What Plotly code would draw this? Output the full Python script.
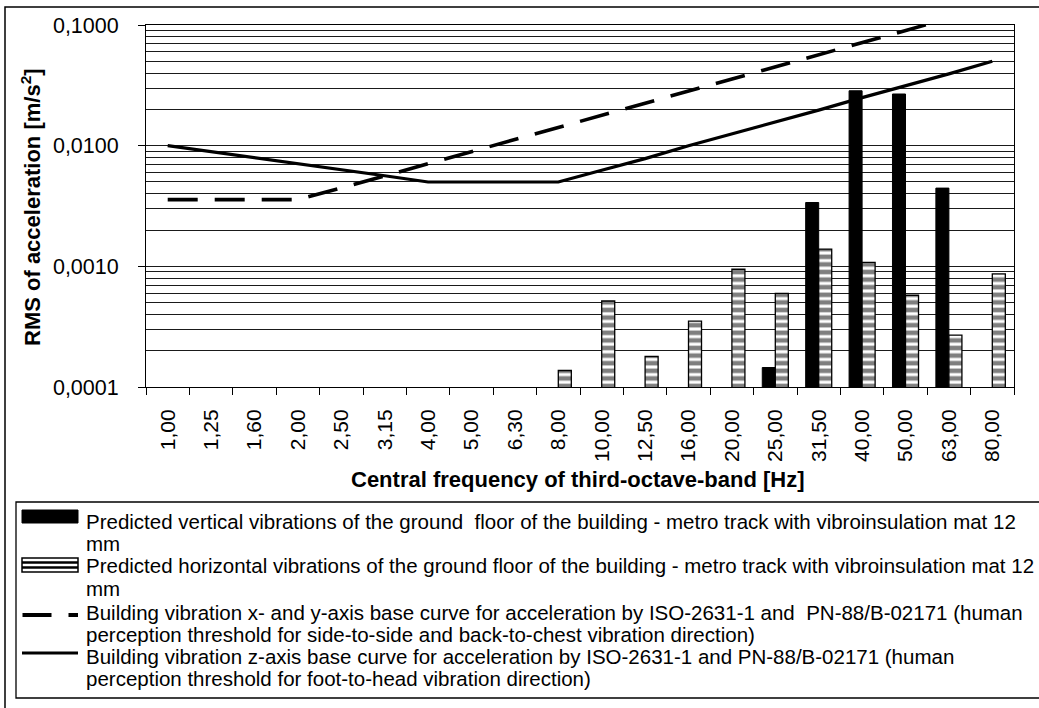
import plotly.graph_objects as go

# Third-octave band centre frequencies [Hz]
bands = ["1,00", "1,25", "1,60", "2,00", "2,50", "3,15", "4,00", "5,00", "6,30", "8,00",
         "10,00", "12,50", "16,00", "20,00", "25,00", "31,50", "40,00", "50,00", "63,00", "80,00"]

# Predicted RMS acceleration [m/s2] on the ground floor
vertical = [None, None, None, None, None, None, None, None, None, None,
            None, None, None, None, 0.000145, 0.00338, 0.0285, 0.0268, 0.00445, None]
horizontal = [None, None, None, None, None, None, None, None, None, 0.000137,
              0.000516, 0.000179, 0.000352, 0.000946, 0.000596, 0.00139, 0.00108, 0.000576, 0.000269, 0.000865]

# ISO-2631-1 / PN-88/B-02171 base curves [m/s2]
xy_curve = [0.00357, 0.00357, 0.00357, 0.00357, 0.00446, 0.00562, 0.00714, 0.00893, 0.01125, 0.01428,
            0.01785, 0.02231, 0.02856, 0.0357, 0.04463, 0.05623, 0.0714, 0.08925, 0.11246, 0.1428]
z_curve = [0.0100, 0.00894, 0.00791, 0.00707, 0.00632, 0.00563, 0.0050, 0.0050, 0.0050, 0.0050,
           0.00625, 0.00781, 0.0100, 0.0125, 0.01563, 0.01969, 0.025, 0.03125, 0.03938, 0.050]

y_major = [0.0001, 0.001, 0.01, 0.1]
y_major_text = ["0,0001", "0,0010", "0,0100", "0,1000"]

legend_lines = [
    "Predicted vertical vibrations of the ground\u00a0 floor of the building - metro track with vibroinsulation mat 12",
    "mm",
    "Predicted horizontal vibrations of the ground floor of the building - metro track with vibroinsulation mat 12",
    "mm",
    "Building vibration x- and y-axis base curve for acceleration by ISO-2631-1 and\u00a0 PN-88/B-02171 (human",
    "perception threshold for side-to-side and back-to-chest vibration direction)",
    "Building vibration z-axis base curve for acceleration by ISO-2631-1 and PN-88/B-02171 (human",
    "perception threshold for foot-to-head vibration direction)",
]

FONT = "Liberation Sans, Arial, sans-serif"
W, H = 1039, 708
L, R, T, B = 146, 25, 25, 321
PW, PH = W - L - R, H - T - B


def fx(p):
    return (p - L) / PW


def fy(p):
    return 1 - (p - T) / PH


# minor gridlines at 2..9 within each decade
minor_vals = [m * d for d in (0.0001, 0.001, 0.01) for m in range(2, 10)]

fig = go.Figure()
fig.add_trace(go.Bar(x=bands, y=vertical, name="vertical",
                     marker=dict(color="black", line=dict(color="black", width=1))))
fig.add_trace(go.Bar(x=bands, y=horizontal, name="horizontal",
                     marker=dict(color="white", line=dict(color="black", width=1.3),
                                 pattern=dict(shape="-", fgcolor="black", bgcolor="white",
                                              size=7.6, solidity=0.6))))
fig.add_trace(go.Scatter(x=bands, y=xy_curve, mode="lines", name="xy",
                         line=dict(color="black", width=3.6, dash="30px,17px")))
fig.add_trace(go.Scatter(x=bands, y=z_curve, mode="lines", name="z",
                         line=dict(color="black", width=3.2)))

shapes = []
# outer chart frame
shapes.append(dict(type="rect", xref="paper", yref="paper",
                   x0=fx(5), x1=fx(1041), y0=fy(7), y1=fy(710),
                   line=dict(color="black", width=1.5), layer="above"))
# legend frame
shapes.append(dict(type="rect", xref="paper", yref="paper",
                   x0=fx(16), x1=fx(1041), y0=fy(502), y1=fy(698),
                   line=dict(color="black", width=1.3), layer="above"))
# legend keys
shapes.append(dict(type="rect", xref="paper", yref="paper",
                   x0=fx(22), x1=fx(78), y0=fy(510), y1=fy(523),
                   fillcolor="black", line=dict(color="black", width=1)))
shapes.append(dict(type="rect", xref="paper", yref="paper",
                   x0=fx(22), x1=fx(78), y0=fy(558), y1=fy(572),
                   fillcolor="white", line=dict(color="black", width=1.5)))
for yy in (562.5, 567.5):
    shapes.append(dict(type="line", xref="paper", yref="paper",
                       x0=fx(22), x1=fx(78), y0=fy(yy), y1=fy(yy),
                       line=dict(color="black", width=2.3)))
shapes.append(dict(type="line", xref="paper", yref="paper",
                   x0=fx(22.5), x1=fx(78), y0=fy(615), y1=fy(615),
                   line=dict(color="black", width=4, dash="29px,17px")))
shapes.append(dict(type="line", xref="paper", yref="paper",
                   x0=fx(22), x1=fx(78), y0=fy(653), y1=fy(653),
                   line=dict(color="black", width=3.2)))

annotations = []
line_centres = [521, 543.5, 565.5, 588, 612, 634, 656, 678]
for text, yc in zip(legend_lines, line_centres):
    annotations.append(dict(text=text, xref="paper", yref="paper", x=fx(84), y=fy(yc),
                            xanchor="left", yanchor="middle", showarrow=False,
                            font=dict(family=FONT, size=20.5, color="black")))
annotations.append(dict(text="<b>Central frequency of third-octave-band [Hz]</b>",
                        xref="paper", yref="paper", x=fx(577), y=fy(479),
                        xanchor="center", yanchor="middle", showarrow=False,
                        font=dict(family=FONT, size=22, color="black")))
annotations.append(dict(text="<b>RMS of acceleration [m/s<sup>2</sup>]</b>",
                        xref="paper", yref="paper", x=fx(31), y=fy(207),
                        xanchor="center", yanchor="middle", showarrow=False, textangle=-90,
                        font=dict(family=FONT, size=22, color="black")))

fig.update_layout(
    width=W, height=H,
    margin=dict(l=L, r=R, t=T, b=B, pad=0),
    paper_bgcolor="white", plot_bgcolor="white",
    showlegend=False,
    barmode="group", bargap=0.4, bargroupgap=0,
    font=dict(family=FONT, color="black"),
    shapes=shapes, annotations=annotations,
    xaxis=dict(type="category", range=[-0.5, 19.5], tickangle=-90,
               ticks="outside", tickson="boundaries", ticklen=7, tickwidth=1, tickcolor="black",
               showline=True, linecolor="black", linewidth=1, mirror=True,
               showgrid=False, zeroline=False, ticklabelstandoff=13,
               tickfont=dict(family=FONT, size=21, color="black")),
    yaxis=dict(type="log", range=[-4, -1], tickmode="array",
               tickvals=y_major, ticktext=y_major_text,
               ticks="outside", ticklen=7, tickwidth=1, tickcolor="black",
               showline=True, linecolor="black", linewidth=1, mirror=True,
               showgrid=True, gridcolor="#1a1a1a", gridwidth=1, zeroline=False,
               ticklabelstandoff=15,
               minor=dict(tickmode="array", tickvals=minor_vals, showgrid=True,
                          gridcolor="#1a1a1a", gridwidth=1, ticks=""),
               tickfont=dict(family=FONT, size=21.5, color="black")),
)

fig.write_html("out.html")
